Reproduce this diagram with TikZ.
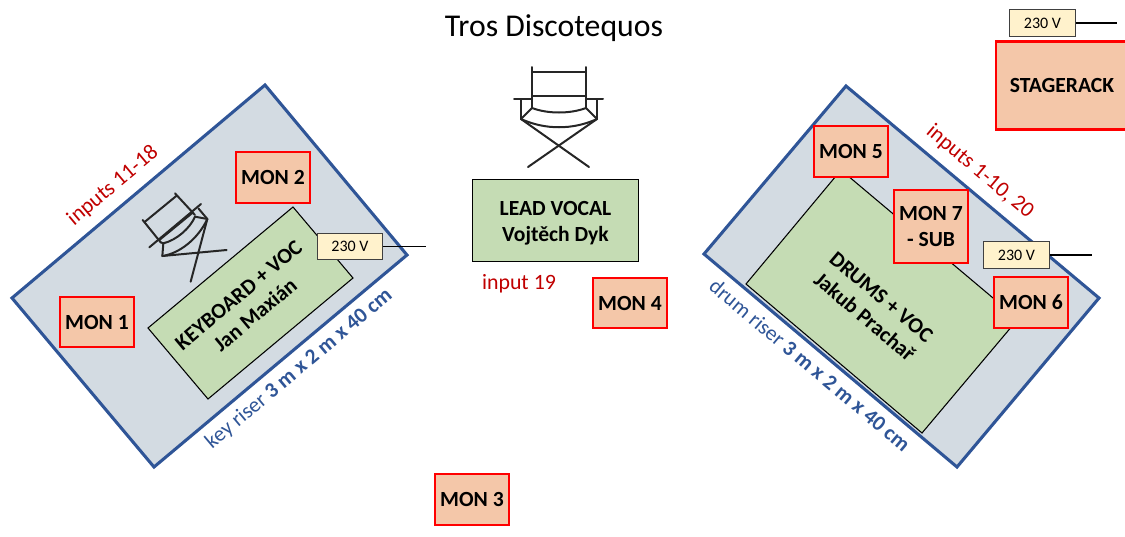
\documentclass[tikz,border=0pt]{standalone}
\usepackage{fontspec}
\setmainfont{Carlito}
\definecolor{riserfill}{HTML}{D3DBE2}
\definecolor{riserline}{HTML}{2F5597}
\definecolor{monfill}{HTML}{F4C7A9}
\definecolor{greenfill}{HTML}{C5DCB4}
\definecolor{creamfill}{HTML}{FFF2CC}
\definecolor{inred}{HTML}{C00000}
\tikzset{
  riser/.style={fill=riserfill,draw=riserline,line width=2.3pt,line join=miter},
  playarea/.style={fill=greenfill,draw=black,line width=0.8pt},
  monbox/.style={rectangle,fill=monfill,draw=red,line width=1.7pt,minimum width=55.5pt,minimum height=38pt,inner sep=0pt,align=center,font=\fontsize{16.2}{20}\selectfont\bfseries},
  tallmon/.style={monbox,minimum height=55pt},
  powerbox/.style={rectangle,fill=creamfill,draw=black!75,line width=0.9pt,minimum width=49pt,minimum height=20pt,inner sep=0pt,font=\fontsize{12}{14}\selectfont},
  powerline/.style={draw=black,line width=1pt},
  chairline/.style={draw=black!85,line width=1.5pt,line cap=round,line join=round},
  redlabel/.style={text=inred,font=\fontsize{16.4}{19}\selectfont},
  bluelabel/.style={text=riserline,font=\fontsize{16.1}{19}\selectfont},
  namelabel/.style={align=center,font=\fontsize{16.2}{19.5}\selectfont\bfseries},
}
\begin{document}
\begin{tikzpicture}[x=0.75pt,y=-0.75pt]
\clip (0,0) rectangle (1125,536);
% risers
\draw[riser] (265,85) -- (407,255) -- (154,467) -- (12,298) -- cycle;
\draw[riser] (846,86) -- (1099,298) -- (957,467) -- (704,254) -- cycle;
% stage areas
\draw[playarea] (293,207) -- (353,278) -- (208,399) -- (148,328) -- cycle;
\draw[playarea] (841,170) -- (1018,319) -- (922,433) -- (746,284) -- cycle;
% left chair
\begin{scope}[shift={(130,180)},x=0.25pt,y=-0.25pt]
\draw[chairline] (38,120) -- (92,187);
\draw[chairline] (135,40) -- (195,105);
\draw[chairline] (45,125) -- (140,47);
\draw[chairline] (58,202) -- (213,72);
\draw[chairline] (88,180) -- (188,98);
\draw[chairline] (97,228) -- (100,190);
\draw[chairline] (232,117) -- (205,85);
\draw[chairline] (100,190) .. controls (140,180) and (180,145) .. (195,110) -- (232,117);
\draw[chairline] (97,228) .. controls (150,220) and (205,175) .. (232,117);
\draw[chairline] (92,187) -- (100,190);
\draw[chairline] (97,228) -- (290,210);
\draw[chairline] (232,117) -- (182,305);
\end{scope}
% centre chair
\draw[chairline] (532,67) -- (532,108);
\draw[chairline] (586,67) -- (586,108);
\draw[chairline] (532,72) -- (586,72);
\draw[chairline] (532,96) -- (586,96);
\draw[chairline] (514,99) -- (532,99);
\draw[chairline] (586,99) -- (603,99);
\draw[chairline] (521,99) -- (521,119);
\draw[chairline] (597,99) -- (597,119);
\draw[chairline] (532,108) -- (521,119);
\draw[chairline] (586,108) -- (597,119);
\draw[chairline] (532,108) .. controls (548,114) and (570,114) .. (586,108);
\draw[chairline] (521,119) .. controls (545,130) and (573,130) .. (597,119);
\draw[chairline] (521,119) -- (589,167);
\draw[chairline] (597,119) -- (528,167);
% title
\node[font=\fontsize{23.8}{28}\selectfont] (title) at (554,28) {Tros Discotequos};
% lead vocal
\node[rectangle,fill=greenfill,draw=black,line width=0.7pt,minimum width=125pt,minimum height=61.5pt,inner sep=0pt] (lead) at (555.5,220) {};
\node[namelabel] (leadtext) at (555.5,223) {LEAD VOCAL\\Vojtěch Dyk};
% power
\node[powerbox] (pleft) at (350,246.5) {230 V};
\coordinate (pleftend) at (426,246.5);
\draw[powerline] (pleft.east) -- (pleftend);
\node[powerbox] (pright) at (1016.5,255) {230 V};
\coordinate (prightend) at (1092,255);
\draw[powerline] (pright.east) -- (prightend);
\node[powerbox] (ptop) at (1042.5,23) {230 V};
\coordinate (ptopend) at (1117,23);
\draw[powerline] (ptop.east) -- (ptopend);
% monitors
\node[monbox] (m1) at (97,322) {MON 1};
\node[monbox] (m2) at (273,177.5) {MON 2};
\node[monbox] (m3) at (472,499.5) {MON 3};
\node[monbox] (m4) at (630,303) {MON 4};
\node[monbox] (m5) at (851,151.5) {MON 5};
\node[monbox] (m6) at (1031,302.5) {MON 6};
\node[tallmon] (m7) at (931,226.5) {MON 7\\- SUB};
\node[monbox,minimum width=99pt,minimum height=66pt] (rack) at (1062,85.5) {STAGERACK};
% labels
\node[namelabel,rotate=40] (keys) at (247,305) {KEYBOARD + VOC\\Jan Maxián};
\node[namelabel,rotate=-40] (drums) at (873,307) {DRUMS + VOC\\Jakub Prachař};
\node[redlabel,rotate=40] (inleft) at (113,186) {inputs 11-18};
\node[redlabel,rotate=-40] (inright) at (980,172) {inputs 1-10, 20};
\node[redlabel] (inmid) at (519,283.5) {input 19};
\node[bluelabel,rotate=40] (keyriser) at (299,369) {key riser \textbf{3 m x 2 m x 40 cm}};
\node[bluelabel,rotate=-40] (drumriser) at (810,365) {drum riser \textbf{3 m x 2 m x 40 cm}};
\end{tikzpicture}
\end{document}
